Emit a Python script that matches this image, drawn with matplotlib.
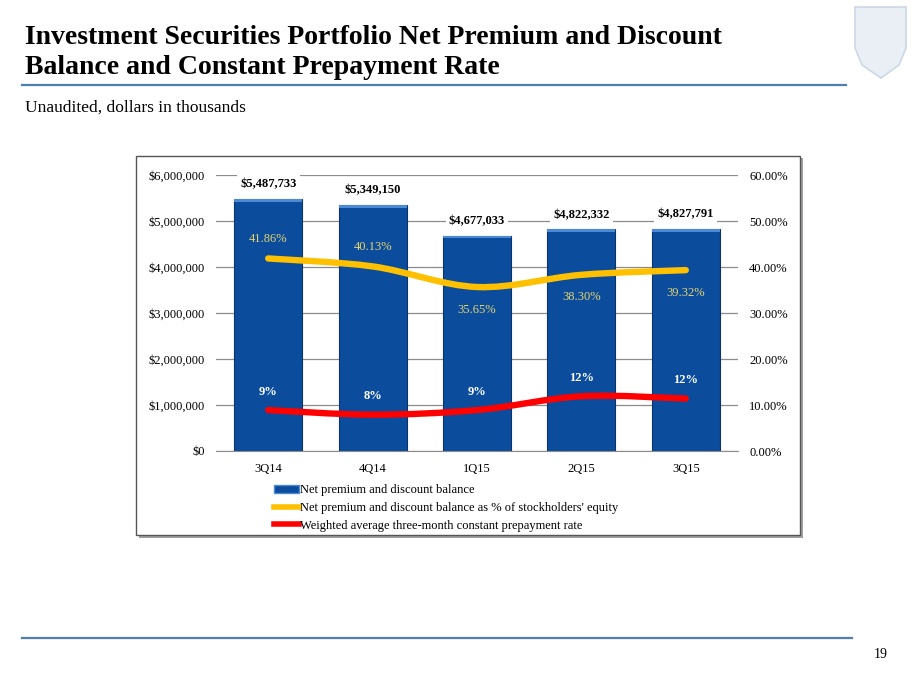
import matplotlib
matplotlib.use("Agg")
import matplotlib.pyplot as plt
import numpy as np
from matplotlib.path import Path
from matplotlib.patches import PathPatch, Rectangle, Polygon
from matplotlib.lines import Line2D
from matplotlib.ticker import FuncFormatter

plt.rcParams['font.family'] = ['Liberation Serif', 'DejaVu Serif']

# data
quarters = ['3Q14', '4Q14', '1Q15', '2Q15', '3Q15']
balance = [5487733, 5349150, 4677033, 4822332, 4827791]
pct_equity = [41.86, 40.13, 35.65, 38.30, 39.32]
cpr = [8.9, 7.9, 8.9, 11.9, 11.4]
cpr_labels = ['9%', '8%', '9%', '12%', '12%']

W, H = 920, 690
fig = plt.figure(figsize=(9.2, 6.9), dpi=100)

def fx(px):
    return px / W

def fy(py):
    return 1 - py / H

# header
fig.text(fx(25), fy(37), 'Investment Securities Portfolio Net Premium and Discount',
         fontsize=20, fontweight='bold', va='center', ha='left')
fig.text(fx(25), fy(67), 'Balance and Constant Prepayment Rate',
         fontsize=20, fontweight='bold', va='center', ha='left')
fig.add_artist(Line2D([fx(22), fx(846)], [fy(85), fy(85)], color='#4F7FB0', lw=1.6))
fig.text(fx(25), fy(108), 'Unaudited, dollars in thousands', fontsize=12.5, va='center')
fig.add_artist(Line2D([fx(22), fx(852)], [fy(638), fy(638)], color='#4F7FB0', lw=1.6))
fig.text(fx(881), fy(655), '19', fontsize=10, ha='center', va='center')

# faint shield logo
shield = [(855, 7), (906, 7), (906, 48), (899, 65), (881, 78), (862, 65), (855, 48)]
fig.add_artist(Polygon([(fx(a), fy(b)) for a, b in shield], closed=True,
                       facecolor='#eaeff5', edgecolor='#ccd8e6', lw=1.2))

# chart frame with shadow
fig.add_artist(Rectangle((fx(139), fy(538)), fx(664), (538 - 158) / H,
                         facecolor='#a0a0a0', edgecolor='none', zorder=0))
fig.add_artist(Rectangle((fx(136), fy(535)), fx(664), (535 - 156) / H,
                         facecolor='white', edgecolor='#555555', lw=1.0, zorder=0.5))

ax = fig.add_axes([fx(216), fy(451), fx(738 - 216), (451 - 175) / H])
ax.set_zorder(2)
x = np.arange(len(quarters))

ax.set_ylim(0, 6000000)
ax.set_xlim(-0.5, len(quarters) - 0.5)
ax.set_yticks(np.arange(0, 6000001, 1000000))
ax.yaxis.set_major_formatter(FuncFormatter(lambda v, p: '${:,.0f}'.format(v)))
ax.grid(axis='y', color='#8c8c8c', lw=0.9)
ax.set_axisbelow(True)
for s in ax.spines.values():
    s.set_visible(False)
ax.spines['bottom'].set_visible(True)
ax.spines['bottom'].set_color('#8c8c8c')
ax.tick_params(axis='both', length=0, labelsize=9, pad=8)
ax.set_xticks(x)
ax.set_xticklabels(quarters)
ax.tick_params(axis='x', pad=9)
ax.patch.set_alpha(0)

bars = ax.bar(x, balance, width=0.65, color='#0B4C9C', edgecolor='#08356e', lw=0.8, zorder=2)
top = np.array(balance) * 0.012
ax.bar(x, top, bottom=np.array(balance) - top, width=0.65, color='#4d8ad6',
       edgecolor='none', zorder=2.5)
for xi, v in zip(x, balance):
    ax.annotate('${:,.0f}'.format(v), (xi, v), xytext=(0, 6), textcoords='offset points',
                ha='center', va='bottom', fontsize=9, fontweight='bold',
                bbox=dict(boxstyle='square,pad=0.25', fc='white', ec='none'), zorder=4)

ax2 = ax.twinx()
ax2.set_ylim(0, 60)
ax2.set_yticks(np.arange(0, 61, 10))
ax2.yaxis.set_major_formatter(FuncFormatter(lambda v, p: '{:.2f}%'.format(v)))
for s in ax2.spines.values():
    s.set_visible(False)
ax2.tick_params(axis='y', length=0, labelsize=9, pad=8)


def smooth_path(xs, ys, t=0.5):
    xs = np.asarray(xs, float)
    ys = np.asarray(ys, float)
    pts = np.column_stack([xs, ys])
    verts = [pts[0]]
    codes = [Path.MOVETO]
    n = len(pts)
    for i in range(n - 1):
        p0 = pts[i - 1] if i > 0 else pts[i]
        p1 = pts[i]
        p2 = pts[i + 1]
        p3 = pts[i + 2] if i + 2 < n else pts[i + 1]
        c1 = p1 + (p2 - p0) * t / 3
        c2 = p2 - (p3 - p1) * t / 3
        verts += [c1, c2, p2]
        codes += [Path.CURVE4] * 3
    return Path(verts, codes)


ax2.add_patch(PathPatch(smooth_path(x, pct_equity), fill=False, edgecolor='#FFC000',
                        lw=4.6, capstyle='round', zorder=3))
ax2.add_patch(PathPatch(smooth_path(x, cpr), fill=False, edgecolor='#FF0000',
                        lw=4.6, capstyle='round', zorder=3))

yoff = [10, 10, -12, -12, -12]
for xi, v, o in zip(x, pct_equity, yoff):
    ax2.annotate('{:.2f}%'.format(v), (xi, v), xytext=(0, o), textcoords='offset points',
                 ha='center', va='bottom' if o > 0 else 'top', fontsize=9, color='#E6D56E')
for xi, v, lab in zip(x, cpr, cpr_labels):
    ax2.annotate(lab, (xi, v), xytext=(0, 9), textcoords='offset points',
                 ha='center', va='bottom', fontsize=9, fontweight='bold', color='white')

handles = [Rectangle((0, 0), 1, 1, facecolor='#0B4C9C', edgecolor='#4d8ad6', lw=1),
           Line2D([], [], color='#FFC000', lw=4),
           Line2D([], [], color='#FF0000', lw=4)]
labels = ['Net premium and discount balance',
          'Net premium and discount balance as % of stockholders\' equity',
          'Weighted average three-month constant prepayment rate']
fig.legend(handles, labels, loc='upper left', bbox_to_anchor=(fx(268), fy(478)),
           frameon=False, fontsize=9, handlelength=2.0, handletextpad=0.1,
           labelspacing=0.45, borderpad=0, handleheight=0.6)

fig.savefig('out.png', dpi=100)
